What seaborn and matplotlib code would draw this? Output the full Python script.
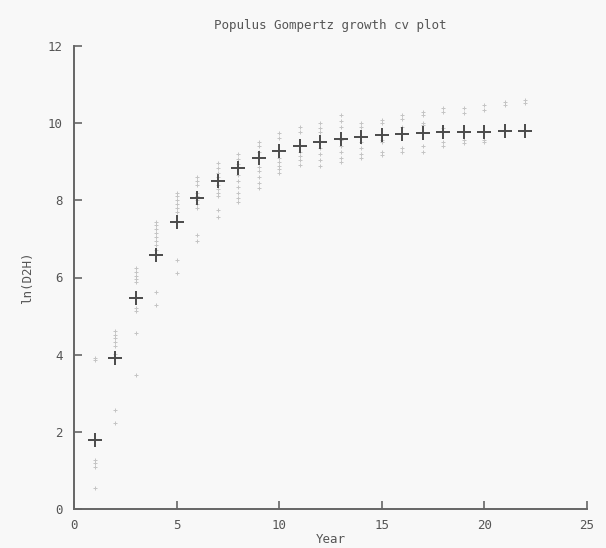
import numpy as np
import pandas as pd
import matplotlib
matplotlib.use("Agg")
import matplotlib.pyplot as plt
import seaborn as sns

# Mean (fitted) values per year
years = list(range(1, 23))
mean_ln_d2h = [1.80, 3.91, 5.47, 6.58, 7.44, 8.06, 8.50, 8.84, 9.10, 9.29, 9.42,
               9.51, 9.59, 9.64, 9.69, 9.73, 9.75, 9.76, 9.77, 9.78, 9.79, 9.79]

# Individual observations (cross-validation points)
obs_1 = [3.91, 3.85, 1.27, 1.18, 1.08, 0.54]
obs_2 = [4.62, 4.52, 4.42, 4.32, 4.22, 4.02, 2.57, 2.23]
obs_3 = [6.25, 6.15, 6.05, 5.95, 5.88, 5.22, 5.12, 4.56, 3.47]
obs_4 = [7.45, 7.35, 7.25, 7.15, 7.05, 6.95, 6.85, 6.72, 5.62, 5.29]
obs_5 = [8.20, 8.10, 8.00, 7.90, 7.80, 7.70, 6.45, 6.12]
obs_6 = [8.60, 8.50, 8.40, 8.20, 8.10, 8.00, 7.90, 7.80, 7.10, 6.95]
obs_7 = [8.97, 8.85, 8.72, 8.60, 8.40, 8.30, 8.20, 8.10, 7.75, 7.58]
obs_8 = [9.20, 9.08, 8.95, 8.65, 8.50, 8.35, 8.20, 8.05, 7.96]
obs_9 = [9.50, 9.40, 9.25, 8.86, 8.75, 8.60, 8.45, 8.32]
obs_10 = [9.75, 9.62, 9.10, 9.00, 8.90, 8.80, 8.70]
obs_11 = [9.90, 9.78, 9.25, 9.15, 9.05, 8.92]
obs_12 = [10.00, 9.88, 9.76, 9.50, 9.35, 9.20, 9.05, 8.90]
obs_13 = [10.20, 10.05, 9.90, 9.56, 9.40, 9.25, 9.10, 9.00]
obs_14 = [10.00, 9.90, 9.50, 9.35, 9.20, 9.10]
obs_15 = [10.08, 10.00, 9.56, 9.50, 9.25, 9.17]
obs_16 = [10.20, 10.10, 9.90, 9.35, 9.25]
obs_17 = [10.30, 10.20, 10.00, 9.95, 9.40, 9.25]
obs_18 = [10.40, 10.28, 9.87, 9.50, 9.40]
obs_19 = [10.40, 10.27, 9.56, 9.49]
obs_20 = [10.47, 10.34, 9.56, 9.50]
obs_21 = [10.55, 10.47]
obs_22 = [10.60, 10.52]

obs_by_year = [obs_1, obs_2, obs_3, obs_4, obs_5, obs_6, obs_7, obs_8, obs_9, obs_10,
               obs_11, obs_12, obs_13, obs_14, obs_15, obs_16, obs_17, obs_18, obs_19,
               obs_20, obs_21, obs_22]

x_ticks = [0, 5, 10, 15, 20, 25]
y_ticks = [0, 2, 4, 6, 8, 10, 12]

obs_df = pd.DataFrame({
    "Year": [y for y, vals in zip(years, obs_by_year) for _ in vals],
    "value": [v for vals in obs_by_year for v in vals],
})
mean_df = pd.DataFrame({"Year": years, "value": mean_ln_d2h})

sns.set_style("ticks")
plt.rcParams["font.family"] = ["DejaVu Sans Mono", "DejaVu Sans"]

fig = plt.figure(figsize=(6.06, 5.48), dpi=100, facecolor="#f8f8f8")
ax = fig.add_axes([74 / 606, 1 - 509 / 548, (587 - 74) / 606, (509 - 46) / 548])
ax.set_facecolor("#f8f8f8")

sns.scatterplot(data=obs_df, x="Year", y="value", ax=ax, marker="+",
                color="#c4c4c4", s=12, linewidth=0.7, zorder=2)
sns.scatterplot(data=mean_df, x="Year", y="value", ax=ax, marker="+",
                color="#4a4a4a", s=110, linewidth=1.4, zorder=3)

ax.set_xlim(0, 25)
ax.set_ylim(0, 12)
ax.set_xticks(x_ticks)
ax.set_yticks(y_ticks)
ax.tick_params(direction="in", length=6, width=1.2, color="#666666",
               labelcolor="#555555", labelsize=9, pad=8)
ax.tick_params(axis="x", pad=7)
for side in ["top", "right"]:
    ax.spines[side].set_visible(False)
for side in ["left", "bottom"]:
    ax.spines[side].set_color("#666666")
    ax.spines[side].set_linewidth(1.4)

ax.set_xlabel("Year", color="#555555", fontsize=9, labelpad=1)
ax.set_ylabel("ln(D2H)", color="#555555", fontsize=9, labelpad=10)
ax.set_title("Populus Gompertz growth cv plot", color="#555555", fontsize=9, pad=12)

fig.savefig("out.png", dpi=100, facecolor=fig.get_facecolor())
